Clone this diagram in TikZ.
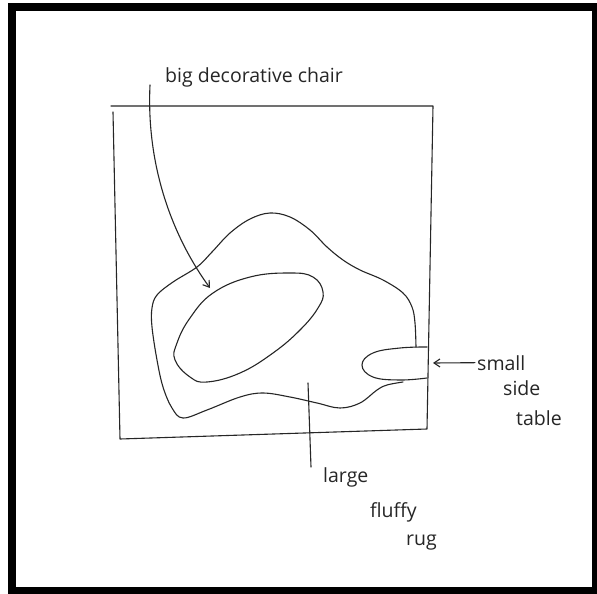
\documentclass[tikz,border=0pt]{standalone}
\usepackage{fontspec}
\setmainfont{Open Sans}
\usetikzlibrary{arrows.meta}
\usetikzlibrary{positioning}

\begin{document}
\begin{tikzpicture}[
    x=1pt,
    y=-1pt,
    pen/.style={
        line width=1.1pt,
        draw=black!85,
        line join=round,
        line cap=round
    },
    hand/.style={
        font=\fontsize{19.5}{22}\selectfont,
        text=black!85,
        inner sep=0pt,
        anchor=base west
    },
    leader/.style={
        pen,
        -{Straight Barb[length=6pt,width=8pt]}
    }
]

    \useasboundingbox (0,0) rectangle (597,594);
    \fill[white] (0,0) rectangle (597,594);
    \fill[black] (8,3) rectangle (597,594);
    \fill[white] (16,11) rectangle (592,587);

    % room outline
    \draw[pen]
    (113,112) -- (120,439) -- (427,429) -- (433,106) -- (111,106);

    % rug
    \draw[pen] plot[smooth, tension=0.6] coordinates {
        (416,347) (415,323) (412,307) (403,293) (383,280) (360,270)
        (343,260) (327,247) (310,230) (290,217) (270,213) (250,219)
        (230,233) (212,252) (197,267) (173,282) (157,295) (152,308)
        (152,327) (157,360) (163,387) (172,408) (183,418) (207,410)
        (240,397) (263,393) (290,397) (317,403) (340,408) (360,403)
        (377,390) (387,385) (403,382)
    };

    % chair
    \draw[pen] plot[smooth cycle, tension=0.7] coordinates {
        (175,360) (190,377) (207,382) (240,373) (273,353) (300,330)
        (318,308) (323,292) (313,277) (290,273) (250,277) (213,293)
        (190,318) (177,343)
    };

    % side table
    \draw[pen] plot[smooth, tension=0.7] coordinates {
        (427,347) (400,348) (373,353) (362,365) (373,377) (400,380) (427,378)
    };

    \node[hand] (chairlbl) at (165,82) {big decorative chair};

    \node[hand] (small) at (477,370) {small};
    \node[hand] (side) at (503,395) {side};
    \node[hand] (table) at (516,425) {table};

    \node[hand] (large) at (323,482) {large};
    \node[hand] (fluffy) at (370,517) {fluffy};
    \node[hand] (rug) at (406,545) {rug};

    \coordinate (chairtip) at (210,288);
    \coordinate (tabletip) at (433,363);
    \coordinate (rugtop) at (308,383);

    \draw[leader]
    ([xshift=-15pt,yshift=-3pt]chairlbl.base west)
        .. controls (146,170) and (175,240) ..
    (chairtip);

    \draw[leader]
    ([xshift=-2pt]small.west) -- (tabletip);

    \draw[pen]
    (rugtop) -- ([xshift=3pt]rugtop |- large.north);

\end{tikzpicture}
\end{document}
